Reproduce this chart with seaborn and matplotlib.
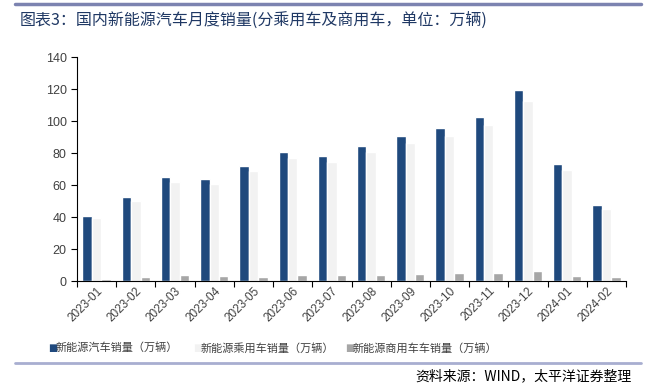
import pandas as pd
import matplotlib
matplotlib.use("Agg")
import matplotlib.pyplot as plt
import seaborn as sns

# --- data ---
months = ["2023-01", "2023-02", "2023-03", "2023-04", "2023-05", "2023-06", "2023-07",
          "2023-08", "2023-09", "2023-10", "2023-11", "2023-12", "2024-01", "2024-02"]
nev_total = [40.8, 52.5, 65.3, 63.6, 71.7, 80.6, 78.0, 84.6, 90.4, 95.6, 102.6, 119.1, 72.9, 47.7]
nev_passenger = [39.3, 50.1, 61.7, 60.5, 68.9, 76.8, 74.5, 80.6, 86.3, 90.9, 97.5, 112.8, 69.5, 45.2]
nev_commercial = [1.5, 2.4, 3.6, 3.1, 2.8, 3.8, 3.5, 4.0, 4.4, 4.7, 5.1, 6.3, 3.4, 2.5]
series_names = ["新能源汽车销量（万辆）", "新能源乘用车销量（万辆）", "新能源商用车车销量（万辆）"]
colors = ["#1f497d", "#f2f2f2", "#a6a6a6"]

df = pd.DataFrame({
    "month": months * 3,
    "value": nev_total + nev_passenger + nev_commercial,
    "series": [series_names[0]] * len(months) + [series_names[1]] * len(months)
              + [series_names[2]] * len(months),
})

sns.set_theme(style="ticks")
plt.rcParams["font.family"] = ["Noto Sans CJK SC", "DejaVu Sans"]

fig = plt.figure(figsize=(6.56, 3.87), dpi=100)
ax = fig.add_axes([77 / 656, 1 - 281 / 387, (626 - 77) / 656, (281 - 57) / 387])

sns.barplot(data=df, x="month", y="value", hue="series", palette=colors,
            width=0.72, gap=0, ax=ax, legend=False, saturation=1)

ax.set_ylim(0, 140)
ax.set_xlim(-0.5, len(months) - 0.5)
ax.set_yticks(range(0, 141, 20))
ax.set_xlabel("")
ax.set_ylabel("")
ax.set_xticks(range(len(months)))
ax.set_xticklabels(months, rotation=45, ha="right", rotation_mode="anchor",
                   fontsize=8.5, color="#404040", family="Liberation Sans")
for lbl in ax.get_yticklabels():
    lbl.set_fontsize(9)
    lbl.set_color("#404040")
    lbl.set_family("Liberation Sans")
ax.tick_params(axis="x", length=0, pad=3)
ax.tick_params(axis="y", length=4, color="black", width=0.8)
# boundary ticks on the x axis
ax.set_xticks([i - 0.5 for i in range(len(months) + 1)], minor=True)
ax.tick_params(axis="x", which="minor", length=4, color="black", width=0.8, direction="out")
for side in ["top", "right"]:
    ax.spines[side].set_visible(False)
for side in ["left", "bottom"]:
    ax.spines[side].set_color("black")
    ax.spines[side].set_linewidth(0.8)

# title and rules
fig.add_artist(plt.Line2D([15 / 656, 641 / 656], [1 - 4 / 387, 1 - 4 / 387],
                          color="#7c83b0", lw=2.5))
fig.text(20 / 656, 1 - 20 / 387, "图表3：国内新能源汽车月度销量(分乘用车及商用车，单位：万辆)",
         fontsize=11.5, color="#1f3864", va="center", ha="left")
fig.add_artist(plt.Line2D([15 / 656, 641 / 656], [1 - 363 / 387, 1 - 363 / 387],
                          color="#a8aed0", lw=2))
fig.text(632 / 656, 1 - 376 / 387, "资料来源：WIND，太平洋证券整理", fontsize=10,
         style="italic", color="#000000", va="center", ha="right")

# legend
leg_x = [48, 193, 345]
for x, name, c in zip(leg_x, series_names, colors):
    fig.text(x / 656, 1 - 348 / 387, "■", fontsize=7, color=c, va="center", ha="left",
             family="DejaVu Sans")
    fig.text((x + 8) / 656, 1 - 348 / 387, name, fontsize=8, color="#404040",
             va="center", ha="left")

fig.savefig("out.png", dpi=100)
